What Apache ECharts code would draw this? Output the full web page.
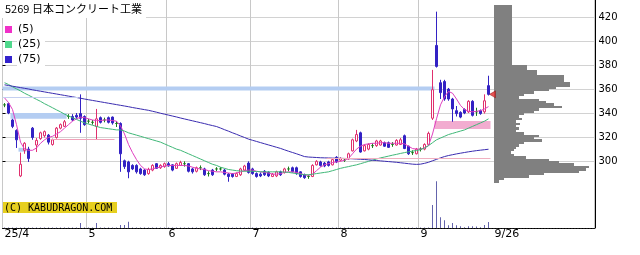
<!DOCTYPE html>
<html><head><meta charset="utf-8">
<script src="https://cdn.jsdelivr.net/npm/echarts@6/dist/echarts.min.js"></script>
<style>html,body{margin:0;padding:0;background:#fff}#c{width:640px;height:255px}</style>
</head><body><div id="c"></div>
<script>
// ---- trading days (2025) ----
const aprDays = [1,2,3,4,7,8,9,10,11,14,15,16,17,18,21,22,23,24,25,28,30];
const mayDays = [1,2,7,8,9,12,13,14,15,16,19,20,21,22,23,26,27,28,29,30];
const junDays = [2,3,4,5,6,9,10,11,12,13,16,17,18,19,20,23,24,25,26,27,30];
const julDays = [1,2,3,4,7,8,9,10,11,14,15,16,17,18,22,23,24,25,28,29,30,31];
const augDays = [1,4,5,6,7,8,12,13,14,15,18,19,20,21,22,25,26,27,28,29];
const sepDays = [1,2,3,4,5,8,9,10,11,12,16,17,18,19,22,24,25,26];

// ---- OHLC ----
const openP = [350,351,337,328,289,311,312,330,315.5,321,323.5,324,316,322,330,331.5,340,340,341,342.5,
340,336,335,331.5,339,337,339,339.5,334,334,302,301,298,298,295,294,291,294,299.5,296,
297,299.5,298.5,295.5,298,299.5,299.5,295,293,296,295,291,294,295,295,294,290.5,290.5,288.5,290,
294,300,295,291,290.5,293,292,288.5,289,292.5,292,295,296,296,292.5,290,288.5,288.5,298.5,301,
300,301,298.5,305,302.5,302.5,303.5,310.5,319,326,310.5,312,315,315,315.5,317.5,317.5,316,315.5,316,
323.5,314.5,309,308,312,312,316,338.5,401,369,370,363.5,355,345,343.5,346,344,353,344,345,
344,366.5];
const closeP = [350,343,331.5,320,299,317,304,322,319.5,326,327,318,320,330,333,335.5,340,337,339.5,338.5,
333,336,335,338,335,337,335,334.5,334,308,297,292.5,295,292.5,291,290,294.5,298,295.5,298,
299.5,297.5,294,299.5,300.5,299.5,293,292.5,296,296,290,291,290,295,295,290.5,288.5,288.5,291,295,
297.5,292,291,288.5,289,290,289,290.5,292.5,290,295,295,292.5,291,288.5,287.5,288.5,298,301.5,298,
297.5,298,303,301,304,302.5,308,320,324.5,309.5,315,316,315,319,319,314.5,313.5,316,319.5,320,
312.5,308,309,312,312,316,325.5,363,383,360.5,355,355,346.5,342.5,339.5,343,353,341,344,342.5,
353.5,359];
const lowP = [348,342,330,313,288,308,301,320,309.5,320,322,316,315,321,329,331,338,336,338,326,
332,334,333,320,334,335,334,333,331,292.5,295,287,294,291,290,289,290,293,295,295,
296,297,293,295,297.5,297,292,291,292,294,289,288.5,289,293,293.5,289.5,284,287.5,288,289,
293,291,290,287.5,288,289,288,288,288,289,291,293,292,290,287.5,286.5,286.5,288,298,297,
296.5,297,298,300,301.5,301,303,310,318,309,310,311,313,314,315,314,313,314,315,315.5,
312,307,307,307.5,310,311,315.5,337,382,355,353.5,353.5,335.5,340,338.5,342,343,340,340.5,341.5,
342.5,358];
const highP = [351.5,352,338,329,309,318,314,331,321.5,327,328,325,321,331,334,337,342,342,343,359,
341,338,337,346.5,340,339,340,340,336,335,303,302,299,299,296,295,296,299,300,299,
300.5,301,299,300.5,302,301.5,300,296,297,298,296,293,295,296.5,296.5,295,291.5,291.5,292,296,
298.5,301.5,296,292,292,294,293,291.5,293.5,293.5,296,297,297,297,293,291,290,299,302.5,302,
301,302,304,306,305,304,309,321,328.5,327,316,317,317,320,320,318.5,318.5,318,320.5,321.5,
324.5,315,311,313,313.5,317,327,380,430,371.5,371.5,364.5,356,349,344.5,347,354,354,347.5,346,
359,375];

// ---- moving averages ----
const ma5 = [356,352,346,333,318,312,311,311,313,317,320,322,323,325,327,330,333,336,338,339.5,
339,338,337,336.5,336.5,337,337,336.5,336,332,325,316,309,303,298,295,294.5,295,296,296.5,
297.5,298,298,298,298,298,297.5,296.5,295.5,295,294.5,293.5,293,292.5,292.5,292,291.5,291,291.5,292.5,
293.5,294,294,293,292.5,292,291.5,290.5,290.5,291,292,292.5,292.5,292,291,290,289.5,290.5,293.5,296.5,
298.5,299.5,300.5,301,301.5,302.5,304,308,312,314.5,316,316.5,317,317,317.5,317.5,317,317,317,317,
316.5,314.5,312.5,312,312,313,315,325,338,350,357,361.5,360,355,349.5,346,344.5,344,344.5,345,
346.5,348.5];
const ma25 = [369,367.5,365.5,363.7,362,360,358.3,356.5,354.7,353,351,349.3,347.5,345.7,344,342,340.5,339,337.5,336,
334.5,333.5,332.5,331.5,330.5,330,329.5,329,328.5,328.5,327.5,326,325,324,323,322,321,320,319,318,
316.5,315,313.5,312,311,309.5,308,306.5,305,303.5,302,300.5,299,298,296.5,295.5,294.5,294,293.5,293.2,
293,293,293,292.8,292.6,292.5,292.5,292.5,292.5,292.5,292.3,292,291.5,291,290.5,290,290,290.5,291,291.5,
292,292.5,293.5,294.5,295.5,296.3,297,297.8,298.5,299.5,300.5,301.5,302.5,303.5,304.5,305.2,306,306.8,307.5,308.3,
309,309.7,310.3,310.8,311.5,313,315,317.5,320,321.5,323,324.5,325.5,326.5,327.5,328.5,330,331.5,333,334.5,
336,338];
const ma75 = [367.2,366.6,366,365.4,364.8,364.2,363.6,362.9,362.3,361.7,361.1,360.5,359.9,359.3,358.7,358.1,357.5,356.9,356.3,355.7,
355,354.4,353.8,353.2,352.6,352,351.4,350.8,350.2,349.6,349,348.4,347.7,347.1,346.5,345.9,345.3,344.5,343.7,342.8,
342,341.2,340.4,339.6,338.7,337.9,337.1,336.3,335.5,334.7,333.9,333,332.2,331.4,330.1,328.7,327.4,326,324.7,323.3,
322,320.6,319.6,318.6,317.6,316.6,315.6,314.6,313.6,312.6,311.4,310.2,309.1,308,306.8,305.6,305.2,305,304.8,304.6,
304.5,304.4,304.3,304.2,304.1,304,303.9,303.7,303.5,303.3,303.1,302.8,302.5,302.2,301.9,301.6,301.3,301,300.7,300.3,
299.9,299.5,299.1,298.9,299.1,299.8,300.7,302,303.2,304.5,305.6,306.5,307.2,307.9,308.5,309.1,309.7,310.2,310.7,311.1,
311.5,311.9];

// ---- volume ----
const volume = [5,5,5,5,5,5,5,5,5,5,5,5,5,5,5,5,5,5,5,50,
5,5,5,50,5,5,5,5,5,30,30,63,5,5,5,5,5,5,5,5,
5,5,5,5,5,5,5,5,5,5,5,5,5,5,5,5,5,5,5,5,
5,5,5,5,5,5,5,5,5,5,5,5,5,5,5,5,5,5,5,5,
5,5,5,5,5,5,5,5,5,5,5,5,5,5,5,5,5,5,5,5,
5,5,5,5,5,5,5,230,467,107,77,27,50,27,17,8,17,17,15,8,
30,60];

// ---- volume-at-price profile (2-yen bins from 282 upward) ----
const profileLow = 282, profileStep = 2;
const profileVol = [5,10,35,50,85,92,95,80,65,55,32,20,17,20,22,25,30,48,40,45,
30,22,25,22,26,22,28,25,30,40,45,68,60,52,45,25,30,40,55,62,
76,76,70,70,70,43,43,33,33,
18,18,18,18,18,18,18,18,18,18,18,18,18,18,18,18,18,18,18,18,18,18,18,18,18];

// ---- price levels ----
const bands = [ // [fromDay, toDay, low, high, colour]
  ['4/1','9/4',362.3,365.8,'#b4cdf2'],
  ['4/3','4/22',338.1,343.1,'#b4cdf2'],
  ['4/7','4/8',309.8,313.1,'#b4cdf2'],
  ['9/5','9/26',329.2,336.1,'#f2acd0']
];
const levelLines = [ // [fromDay, toDay, price, colour]
  ['4/1','4/25',356.2,'#c4cff0'],
  ['4/17','5/13',320.3,'#f0a0b8'],
  ['7/29','9/26',304.4,'#f0b0c0']
];
const xTickLabels = [['4/1','25/4'],['5/1','5'],['6/2','6'],['7/1','7'],['8/1','8'],['9/1','9'],['9/26','9/26']];
const gridDays = ['4/1','5/1','6/2','7/1','8/1','9/1'];

// ---- build ----
const cats = [];
[[4,aprDays],[5,mayDays],[6,junDays],[7,julDays],[8,augDays],[9,sepDays]].forEach(([m,ds])=>ds.forEach(d=>cats.push(m+'/'+d)));
const nData = cats.length;
const nSlots = 148;
for (let i = nData; i < nSlots; i++) cats.push('pad' + i);
const idx = d => cats.indexOf(d);
const labelMap = {}; xTickLabels.forEach(([d,t]) => labelMap[idx(d)] = t);
const gridSet = new Set(gridDays.map(idx));

const candles = openP.map((o,i)=>[o, closeP[i], lowP[i], highP[i]]);
const profileCats = profileVol.map((v,i)=>String(profileLow + i*profileStep));

// layout
const L = 2.5, W = 592;
const pTop = -7, pH = 240, pMin = 240, pMax = 440;
const py = v => pTop + (pMax - v) / (pMax - pMin) * pH;
const profTop = py(profileLow + profileVol.length*profileStep);
const profBot = py(profileLow);

const FONT = 'DejaVu Sans';
const chart = echarts.init(document.getElementById('c'), null, {width:640, height:255});
chart.setOption({
  animation:false,
  backgroundColor:'#fff',
  grid:[
    {left:L, top:pTop, width:W, height:pH},
    {left:L, top:0, width:W, height:228},
    {left:L, top:py(420), width:W+1, height:py(300)-py(420)},
    {left:494, top:profTop, width:100, height:profBot-profTop},
    {left:L, top:0, width:W+1, height:228}
  ],
  xAxis:[
    {type:'category', gridIndex:0, data:cats, show:false, boundaryGap:true},
    {type:'value', gridIndex:0, min:-0.5, max:nSlots-0.5, show:false},
    {type:'category', gridIndex:1, data:cats, boundaryGap:true,
     axisLine:{show:true, lineStyle:{color:'#000', width:1, type:[2,1]}},
     axisTick:{show:false},
     axisLabel:{show:true, interval:(i)=>labelMap[i]!==undefined, formatter:(v,i)=>{
        const t = labelMap[i]; if (t===undefined) return ''; return i===nData-1 ? '{e|'+t+'}' : t; },
        align:'left', margin:1, color:'#000', fontFamily:FONT, fontSize:11,
        rich:{e:{padding:[0,0,0,6], fontFamily:FONT, fontSize:11, color:'#000'}}},
     splitLine:{show:true, interval:(i)=>gridSet.has(i), lineStyle:{color:'#c8c8c8', width:1}}},
    {type:'value', gridIndex:2, show:false},
    {type:'value', gridIndex:3, min:0, max:100, show:false},
    {type:'value', gridIndex:4, show:false}
  ],
  yAxis:[
    {type:'value', gridIndex:0, min:pMin, max:pMax, show:false, splitLine:{show:false}},
    {type:'value', gridIndex:1, min:0, max:2280, show:false, splitLine:{show:false}},
    {type:'value', gridIndex:2, min:300, max:420, interval:20, position:'right',
     axisLine:{show:false}, axisTick:{show:true, length:3, lineStyle:{color:'#000'}},
     axisLabel:{show:true, margin:3, color:'#000', fontFamily:FONT, fontSize:10},
     splitLine:{show:true, lineStyle:{color:'#d2d2d2', width:1}}},
    {type:'category', gridIndex:3, data:profileCats, show:false, boundaryGap:true},
    {type:'value', gridIndex:4, position:'right', axisLine:{show:true, onZero:false, lineStyle:{color:'#000', width:1}},
     axisTick:{show:false}, axisLabel:{show:false}, splitLine:{show:false}}
  ],
  graphic:[
    {type:'rect', z:100, shape:{x:0, y:0, width:146, height:18}, style:{fill:'#fff'}},
    {type:'text', z:101, x:5, y:8.5, style:{text:'5269 日本コンクリート工業', font:'11px "Noto Sans CJK JP"', fill:'#000', verticalAlign:'middle'}},
    {type:'rect', z:100, shape:{x:17, y:23, width:22, height:13}, style:{fill:'#fff'}},
    {type:'rect', z:100, shape:{x:17, y:38, width:28, height:13}, style:{fill:'#fff'}},
    {type:'rect', z:100, shape:{x:17, y:53, width:28, height:13}, style:{fill:'#fff'}},
    {type:'rect', z:101, shape:{x:5, y:26, width:7, height:7}, style:{fill:'#f030c8'}},
    {type:'rect', z:101, shape:{x:5, y:41, width:7, height:7}, style:{fill:'#50d88c'}},
    {type:'rect', z:101, shape:{x:5, y:56, width:7, height:7}, style:{fill:'#3322cc'}},
    {type:'text', z:101, x:18, y:29.5, style:{text:'(5)', font:'11px "DejaVu Sans"', fill:'#000', verticalAlign:'middle'}},
    {type:'text', z:101, x:18, y:44.5, style:{text:'(25)', font:'11px "DejaVu Sans"', fill:'#000', verticalAlign:'middle'}},
    {type:'text', z:101, x:18, y:59.5, style:{text:'(75)', font:'11px "DejaVu Sans"', fill:'#000', verticalAlign:'middle'}},
    {type:'rect', z:100, shape:{x:3, y:202, width:114, height:11}, style:{fill:'#e6cf1f'}},
    {type:'text', z:101, x:4, y:208, style:{text:'(C) KABUDRAGON.COM', font:'10px "DejaVu Sans Mono"', fill:'#000', verticalAlign:'middle'}}
  ],
  series:[
    {type:'line', name:'levels', xAxisIndex:1, yAxisIndex:0, data:[], z:1, silent:true,
     markArea:{silent:true, data: bands.map(b=>[{xAxis:idx(b[0])-0.5, yAxis:b[2], itemStyle:{color:b[4]}},{xAxis:idx(b[1])+0.5, yAxis:b[3]}])},
     markLine:{silent:true, symbol:'none', label:{show:false}, animation:false,
       data: levelLines.map(l=>[{xAxis:idx(l[0])-0.5, yAxis:l[2], lineStyle:{color:l[3], width:1, type:'solid'}},{xAxis:idx(l[1])+0.5, yAxis:l[2]}])}},
    {type:'bar', name:'volume', xAxisIndex:2, yAxisIndex:1, data:volume, barWidth:1, itemStyle:{color:'#6464ac'}, z:2, silent:true},
    {type:'candlestick', name:'price', xAxisIndex:0, yAxisIndex:0, data:candles, barWidth:3, z:3, silent:true,
     itemStyle:{color:'#ffffff', color0:'#3322c4', borderColor:'#e0306e', borderColor0:'#3322c4', borderColorDoji:'#1a7a1a', borderWidth:1}},
    {type:'line', name:'MA5', xAxisIndex:0, yAxisIndex:0, data:ma5, symbol:'none', z:4, silent:true, lineStyle:{color:'#e040c0', width:1}},
    {type:'line', name:'MA25', xAxisIndex:0, yAxisIndex:0, data:ma25, symbol:'none', z:4, silent:true, lineStyle:{color:'#40b878', width:1}},
    {type:'line', name:'MA75', xAxisIndex:0, yAxisIndex:0, data:ma75, symbol:'none', z:4, silent:true, lineStyle:{color:'#3a2cb0', width:1}},
    {type:'custom', name:'profile', xAxisIndex:4, yAxisIndex:3, z:5, silent:true,
     data: profileVol.map((v,i)=>[v,i]), encode:{x:0, y:1},
     renderItem:(params, api)=>{
       const p0 = api.coord([0, api.value(1)]);
       const p1 = api.coord([api.value(0), api.value(1)]);
       const h = api.size([0,1])[1];
       const y0 = Math.round(p0[1]-h/2), y1 = Math.round(p0[1]+h/2);
       return {type:'rect', shape:{x:Math.round(p0[0]), y:y0, width:Math.round(p1[0]-p0[0]), height:y1-y0}, style:{fill:'#808080'}};
     }},
    {type:'scatter', name:'last', xAxisIndex:1, yAxisIndex:0, data:[[nData, closeP[nData-1]]], z:6, silent:true,
     symbol:'path://M0,5L8,0L8,10Z', symbolSize:[6,7], itemStyle:{color:'#e02828', borderColor:'#7a0000', borderWidth:0.5}}
  ]
});
</script></body></html>
